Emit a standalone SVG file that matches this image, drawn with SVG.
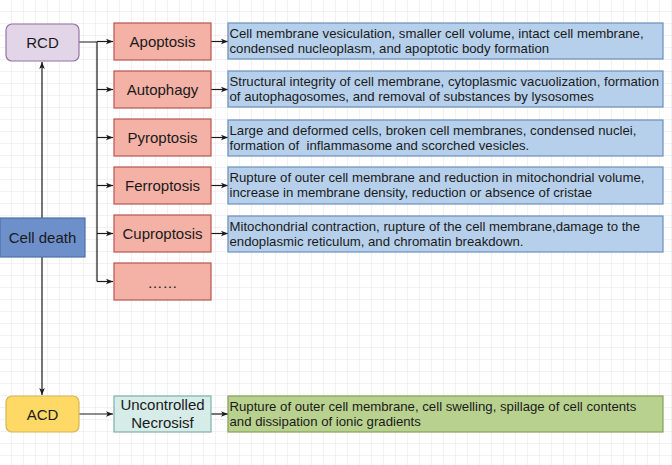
<svg xmlns="http://www.w3.org/2000/svg" width="672" height="465" viewBox="0 0 672 465">
<defs>
<pattern id="grid" width="12" height="12" patternUnits="userSpaceOnUse">
<path d="M12 0V12M0 12H12" fill="none" stroke="#e4e4e4" stroke-width="1"/>
</pattern>
<marker id="arr" viewBox="0 0 10 10" refX="10" refY="5" markerWidth="7" markerHeight="7" markerUnits="userSpaceOnUse" orient="auto">
<path d="M0 1L10 5L0 9L2.5 5Z" fill="#1a1a1a"/>
</marker>
</defs>
<style>
.lbl{font-family:"Liberation Sans",Arial,sans-serif;font-size:15px;fill:#1a1a1a;text-anchor:middle}
.desc{font-family:"Liberation Sans",Arial,sans-serif;font-size:13.2px;fill:#1a1a1a}
.red{fill:#f4b1a6;stroke:#b85450;stroke-width:1.2}
.blue{fill:#b6d0ec;stroke:#6c8ebf;stroke-width:1.2}
.edge{fill:none;stroke:#1a1a1a;stroke-width:1.2}
</style>
<rect width="672" height="465" fill="#ffffff"/>
<rect width="672" height="465" fill="url(#grid)"/>

<g id="connectors">
<path class="edge" d="M42 218V62" marker-end="url(#arr)"/>
<path class="edge" d="M42 257V395" marker-end="url(#arr)"/>
<path class="edge" d="M79 42H97V281.5" stroke-width="2"/>
<path class="edge" d="M97 41.5H113" marker-end="url(#arr)"/>
<path class="edge" d="M97 89.5H113" marker-end="url(#arr)"/>
<path class="edge" d="M97 137.5H113" marker-end="url(#arr)"/>
<path class="edge" d="M97 185.5H113" marker-end="url(#arr)"/>
<path class="edge" d="M97 233.5H113" marker-end="url(#arr)"/>
<path class="edge" d="M97 281.5H113" marker-end="url(#arr)"/>
<path class="edge" d="M211 41.5H228" marker-end="url(#arr)"/>
<path class="edge" d="M211 89.5H228" marker-end="url(#arr)"/>
<path class="edge" d="M211 137.5H228" marker-end="url(#arr)"/>
<path class="edge" d="M211 185.5H228" marker-end="url(#arr)"/>
<path class="edge" d="M211 233.5H228" marker-end="url(#arr)"/>
<path class="edge" d="M79 414H113" marker-end="url(#arr)"/>
<path class="edge" d="M211 414H228" marker-end="url(#arr)"/>
</g>

<g id="rcd">
<rect x="6" y="24" width="73" height="37" rx="6" fill="#e1d5e7" stroke="#9673a6" stroke-width="1.2"/>
<text class="lbl" x="42.5" y="47.5">RCD</text>
</g>
<g id="celldeath">
<rect x="0" y="218" width="85" height="39" fill="#6d8fca" stroke="#4f70a8" stroke-width="1.2"/>
<text class="lbl" x="42.5" y="243">Cell death</text>
</g>
<g id="acd">
<rect x="6" y="396" width="73" height="36" rx="6" fill="#ffd966" stroke="#d6b656" stroke-width="1.2"/>
<text class="lbl" x="42.5" y="419.5">ACD</text>
</g>

<g id="apoptosis">
<rect class="red" x="114" y="23" width="97" height="37"/>
<text class="lbl" x="162.5" y="47">Apoptosis</text>
</g>
<g id="autophagy">
<rect class="red" x="114" y="71" width="97" height="37"/>
<text class="lbl" x="162.5" y="95">Autophagy</text>
</g>
<g id="pyroptosis">
<rect class="red" x="114" y="119" width="97" height="37"/>
<text class="lbl" x="162.5" y="143">Pyroptosis</text>
</g>
<g id="ferroptosis">
<rect class="red" x="114" y="167" width="97" height="37"/>
<text class="lbl" x="162.5" y="191">Ferroptosis</text>
</g>
<g id="cuproptosis">
<rect class="red" x="114" y="215" width="97" height="37"/>
<text class="lbl" x="162.5" y="239">Cuproptosis</text>
</g>
<g id="more">
<rect class="red" x="114" y="263" width="97" height="37"/>
<text class="lbl" x="162.5" y="288">……</text>
</g>
<g id="necrosis">
<rect x="114" y="396" width="97" height="36" fill="#d5ece8" stroke="#7fb1a6" stroke-width="1.2"/>
<text class="lbl" x="162.5" y="410">Uncontrolled</text>
<text class="lbl" x="162.5" y="428">Necrosisf</text>
</g>

<g id="desc-apoptosis">
<rect class="blue" x="228" y="23" width="435" height="36"/>
<text class="desc" x="229.5" y="38">Cell membrane vesiculation, smaller cell volume, intact cell membrane,</text>
<text class="desc" x="229.5" y="52.5">condensed nucleoplasm, and apoptotic body formation</text>
</g>
<g id="desc-autophagy">
<rect class="blue" x="228" y="71" width="435" height="36"/>
<text class="desc" x="229.5" y="86">Structural integrity of cell membrane, cytoplasmic vacuolization, formation</text>
<text class="desc" x="229.5" y="100.5">of autophagosomes, and removal of substances by lysosomes</text>
</g>
<g id="desc-pyroptosis">
<rect class="blue" x="228" y="120" width="435" height="36"/>
<text class="desc" x="229.5" y="134.5">Large and deformed cells, broken cell membranes, condensed nuclei,</text>
<text class="desc" x="229.5" y="149.5" xml:space="preserve">formation of  inflammasome and scorched vesicles.</text>
</g>
<g id="desc-ferroptosis">
<rect class="blue" x="228" y="167" width="435" height="37"/>
<text class="desc" x="229.5" y="182">Rupture of outer cell membrane and reduction in mitochondrial volume,</text>
<text class="desc" x="229.5" y="197">increase in membrane density, reduction or absence of cristae</text>
</g>
<g id="desc-cuproptosis">
<rect class="blue" x="228" y="216" width="435" height="36"/>
<text class="desc" x="229.5" y="230.5">Mitochondrial contraction, rupture of the cell membrane,damage to the</text>
<text class="desc" x="229.5" y="245.5">endoplasmic reticulum, and chromatin breakdown.</text>
</g>
<g id="desc-necrosis">
<rect x="228" y="396" width="435" height="36" fill="#b9d18f" stroke="#82a05a" stroke-width="1.2"/>
<text class="desc" x="229.5" y="411">Rupture of outer cell membrane, cell swelling, spillage of cell contents</text>
<text class="desc" x="229.5" y="425.5">and dissipation of ionic gradients</text>
</g>
</svg>
